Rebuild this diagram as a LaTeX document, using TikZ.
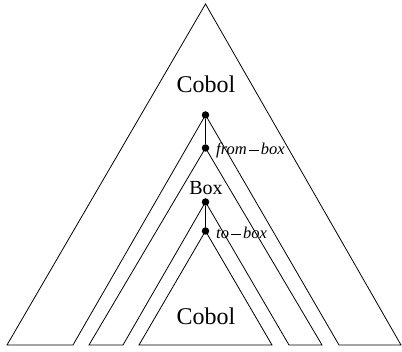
\documentclass[tikz,border=0pt]{standalone}
\usepackage{fontspec}
\setmainfont{Liberation Serif}
\newcommand{\longminus}{\kern0.12em\vrule height 0.3em depth -0.25em width 0.62em\kern0.12em}
\tikzset{
  dot/.style={circle, fill=black, inner sep=0pt, minimum size=7.5pt},
  link/.style={line width=1.6pt},
  piece/.style={line width=0.8pt, line join=miter}
}
\begin{document}
\begin{tikzpicture}[x=1pt, y=-1pt]
  \useasboundingbox (0,0) rectangle (402,352);
  \node[dot] (cobolhole) at (205.5,115) {};
  \node[dot] (frombox) at (205.5,148) {};
  \node[dot] (boxhole) at (205.5,202) {};
  \node[dot] (tobox) at (205.5,231) {};
  % the three pieces
  \draw[piece] (7,345) -- (205.5,4) -- (401,345) -- (339,345) -- (cobolhole.center) -- (73,345) -- cycle;
  \draw[piece] (89,345) -- (frombox.center) -- (322,345) -- (289,345) -- (boxhole.center) -- (123,345) -- cycle;
  \draw[piece] (139,345) -- (tobox.center) -- (272,345) -- cycle;
  \draw[link] (cobolhole) -- (frombox);
  \draw[link] (boxhole) -- (tobox);
  \node[font=\fontsize{24}{28}\selectfont, anchor=base] (cobolout) at (206,93) {Cobol};
  \node[font=\fontsize{20}{24}\selectfont, anchor=base] (box) at (206,195) {Box};
  \node[font=\fontsize{24}{28}\selectfont, anchor=base] (cobolin) at (206,325) {Cobol};
  \node[font=\fontsize{16.5}{20}\selectfont, anchor=base west, inner sep=0pt] (fromlabel) at (216,155) {\textit{from}\longminus\textit{box}};
  \node[font=\fontsize{16.5}{20}\selectfont, anchor=base west, inner sep=0pt] (tolabel) at (216,239) {\textit{to}\longminus\textit{box}};
\end{tikzpicture}
\end{document}
